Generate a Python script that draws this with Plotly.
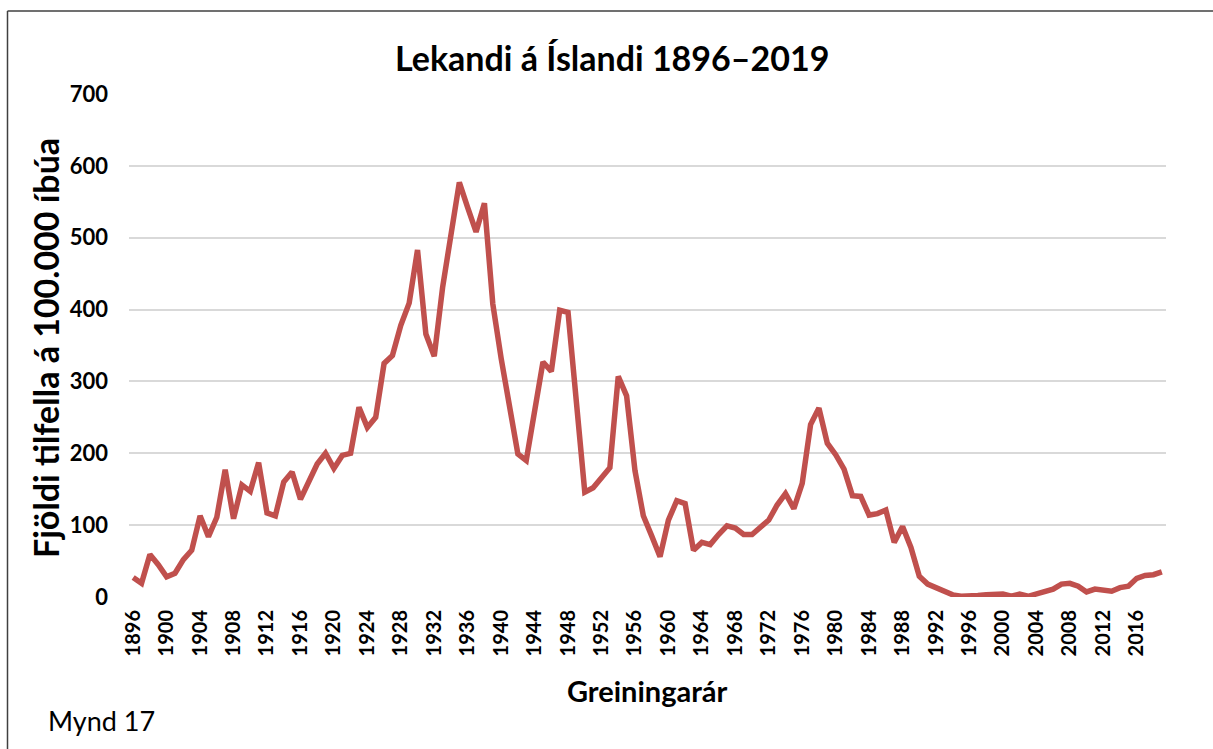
import plotly.graph_objects as go

years = list(range(1896, 2020))
cases = [
    27, 19, 59, 45, 28, 33, 52, 65, 113, 84,          # 1896-1905
    111, 177, 109, 156, 147, 187, 117, 113, 160, 174,  # 1906-1915
    136, 160, 185, 200, 179, 197, 200, 264, 236, 250,  # 1916-1925
    325, 336, 378, 409, 483, 366, 335, 431, 508, 577,  # 1926-1935
    542, 508, 548, 408, 332, 264, 199, 190, 262, 327,  # 1936-1945
    314, 399, 396, 272, 146, 152, 166, 180, 307, 280,  # 1946-1955
    176, 113, 85, 56, 107, 134, 130, 65, 76, 73,       # 1956-1965
    87, 99, 96, 87, 87, 96, 107, 128, 144, 123,        # 1966-1975
    158, 240, 263, 214, 198, 178, 141, 140, 114, 116,  # 1976-1985
    121, 76, 98, 69, 29, 18, 13, 7, 3, 1,              # 1986-1995
    1, 2, 3, 3, 4, 1, 4, 1, 4, 7,                      # 1996-2005
    11, 18, 19, 15, 7, 11, 10, 8, 13, 15,              # 2006-2015
    26, 30, 31, 35,                                    # 2016-2019
]
x_ticks = [1896, 1900, 1904, 1908, 1912, 1916, 1920, 1924, 1928, 1932, 1936,
           1940, 1944, 1948, 1952, 1956, 1960, 1964, 1968, 1972, 1976, 1980,
           1984, 1988, 1992, 1996, 2000, 2004, 2008, 2012, 2016]
y_ticks = [0, 100, 200, 300, 400, 500, 600, 700]

title_text = "Lekandi á Íslandi 1896–2019"
x_title = "Greiningarár"
y_title = "Fjöldi tilfella á 100.000 íbúa"
caption = "Mynd 17"

FONT = "Lato"

fig = go.Figure()
fig.add_trace(go.Scatter(
    x=years, y=cases, mode="lines",
    line=dict(color="#c0504d", width=5.5),
    hoverinfo="x+y", showlegend=False,
))

W, H = 1213, 749
L, R, T, B = 129, 1166, 94, 597
pw, ph = R - L, B - T

def px(x):
    return (x - L) / pw

def py(y):
    return (B - y) / ph

fig.update_layout(
    width=W, height=H,
    margin=dict(l=L, r=W - R, t=T, b=H - B, autoexpand=False),
    paper_bgcolor="white", plot_bgcolor="white",
    font=dict(family=FONT, color="black"),
    xaxis=dict(
        range=[1895.5, 2019.5], tickmode="array", tickvals=x_ticks,
        ticktext=[str(v) for v in x_ticks], tickangle=-90,
        tickfont=dict(family=FONT, size=20, color="black", weight="bold"),
        showgrid=False, zeroline=False, showline=False, ticks="",
        ticklabelstandoff=8,
    ),
    yaxis=dict(
        range=[0, 700], tickmode="array", tickvals=y_ticks,
        tickfont=dict(family=FONT, size=22, color="black", weight="bold"),
        showgrid=True, gridcolor="#d9d9d9", gridwidth=2,
        zeroline=False, showline=False, ticks="",
        ticklabelstandoff=20,
    ),
    annotations=[
        dict(text="<b>" + title_text + "</b>", x=px(612), y=py(58),
             xref="paper", yref="paper", xanchor="center", yanchor="middle",
             showarrow=False, font=dict(family=FONT, size=34, color="black")),
        dict(text="<b>" + x_title + "</b>", x=px(647), y=py(690),
             xref="paper", yref="paper", xanchor="center", yanchor="middle",
             showarrow=False, font=dict(family=FONT, size=29, color="black")),
        dict(text="<b>" + y_title + "</b>", x=px(45), y=py(348),
             xref="paper", yref="paper", xanchor="center", yanchor="middle",
             textangle=-90, showarrow=False,
             font=dict(family=FONT, size=34, color="black")),
        dict(text=caption, x=px(46), y=py(720),
             xref="paper", yref="paper", xanchor="left", yanchor="middle",
             showarrow=False, font=dict(family=FONT, size=27, color="black")),
    ],
    shapes=[
        dict(type="line", xref="paper", yref="paper",
             x0=px(7.5), x1=px(7.5), y0=py(11), y1=py(760),
             line=dict(color="#404040", width=1.5)),
        dict(type="line", xref="paper", yref="paper",
             x0=px(7.5), x1=px(1220), y0=py(11), y1=py(11),
             line=dict(color="#404040", width=1.5)),
    ],
)

fig.write_html(
    "out.html",
    config={"displayModeBar": False},
    post_script="document.body.style.margin='0';document.body.style.overflow='hidden';",
)
